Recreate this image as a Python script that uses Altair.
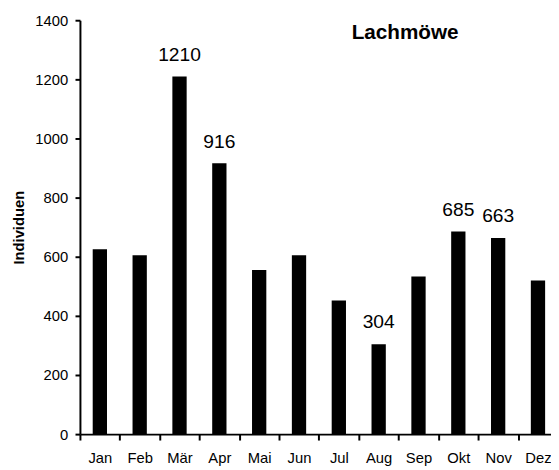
import altair as alt
import pandas as pd

months = ["Jan", "Feb", "Mär", "Apr", "Mai", "Jun", "Jul", "Aug", "Sep", "Okt", "Nov", "Dez"]
individuen = [625, 605, 1210, 916, 555, 605, 452, 304, 533, 685, 663, 520]
value_labels = ["", "", "1210", "916", "", "", "", "304", "", "685", "663", ""]
y_ticks = [0, 200, 400, 600, 800, 1000, 1200, 1400]
species = "Lachmöwe"
y_title = "Individuen"

df = pd.DataFrame({"Monat": months, "Individuen": individuen, "Label": value_labels})
title_df = pd.DataFrame({"t": [species]})

FONT = "Liberation Sans"

x_enc = alt.X(
    "Monat:N",
    sort=months,
    scale=alt.Scale(range=[0, 485], paddingInner=0, paddingOuter=0),
    axis=alt.Axis(
        title=None,
        labelAngle=0,
        tickBand="extent",
        tickSize=6,
        tickWidth=2,
        tickColor="black",
        domainWidth=2,
        domainColor="black",
        labelFont=FONT,
        labelFontSize=15,
        labelColor="black",
        labelBaseline="alphabetic",
        labelPadding=22.5,
        labelOverlap=False,
    ),
)
y_enc = alt.Y(
    "Individuen:Q",
    scale=alt.Scale(domain=[0, 1400], nice=False),
    axis=alt.Axis(
        values=y_ticks,
        format="d",
        grid=False,
        tickSize=5,
        tickWidth=2,
        tickColor="black",
        domainWidth=2,
        domainColor="black",
        labelFont=FONT,
        labelFontSize=15,
        labelColor="black",
        labelPadding=7.5,
        title=y_title,
        titleFont=FONT,
        titleFontSize=15,
        titleFontWeight="bold",
        titleColor="black",
        titleAngle=270,
        titleAlign="center",
        titleBaseline="middle",
        titleX=-62.5,
        titleY=210,
    ),
)

base = alt.Chart(df)
bars = base.mark_bar(color="black", width=14.5).encode(x=x_enc, y=y_enc)
texts = (
    base.transform_filter(alt.datum.Label != "")
    .mark_text(font=FONT, fontSize=19.5, color="black", baseline="alphabetic", dy=-16)
    .encode(x=alt.X("Monat:N", sort=months), y="Individuen:Q", text="Label:N")
)
title = (
    alt.Chart(title_df)
    .mark_text(font=FONT, fontSize=21, fontWeight="bold", color="black", baseline="alphabetic", align="center")
    .encode(x=alt.value(330), y=alt.value(18.7), text="t:N")
)

chart = (
    alt.layer(bars, texts, title)
    .properties(
        width=478,
        height=420,
        padding={"left": 73, "top": 9, "right": 0, "bottom": 33},
        autosize=alt.AutoSizeParams(type="none"),
    )
    .configure_view(stroke=None)
)

chart.save("out.html", embed_options={"renderer": "svg", "actions": False})
